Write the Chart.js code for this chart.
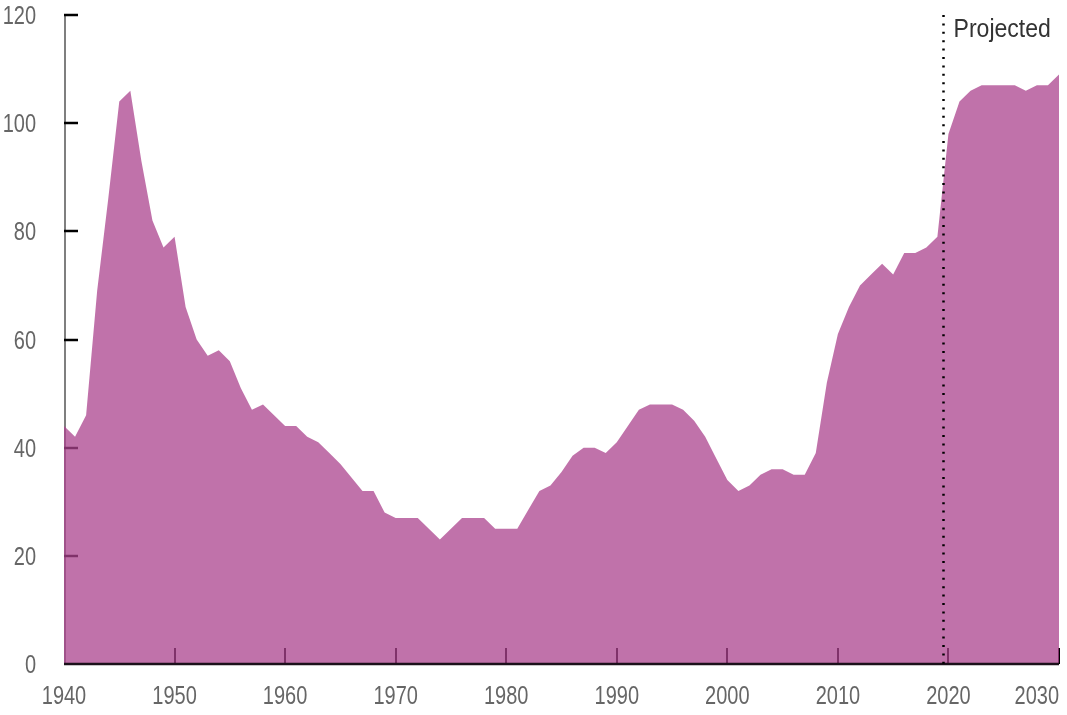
<!DOCTYPE html>
<html>
<head>
<meta charset="utf-8">
<script src="https://cdn.jsdelivr.net/npm/chart.js@4.4.1/dist/chart.umd.min.js"></script>
<style>
  html, body { margin: 0; padding: 0; background: #ffffff; }
  #wrap { width: 1067px; height: 715px; position: relative; }
</style>
</head>
<body>
<div id="wrap"><canvas id="c"></canvas></div>
<script>
// ---- data ----
const years = [
  1940, 1941, 1942, 1943, 1944, 1945, 1946, 1947, 1948, 1949,
  1950, 1951, 1952, 1953, 1954, 1955, 1956, 1957, 1958, 1959,
  1960, 1961, 1962, 1963, 1964, 1965, 1966, 1967, 1968, 1969,
  1970, 1971, 1972, 1973, 1974, 1975, 1976, 1977, 1978, 1979,
  1980, 1981, 1982, 1983, 1984, 1985, 1986, 1987, 1988, 1989,
  1990, 1991, 1992, 1993, 1994, 1995, 1996, 1997, 1998, 1999,
  2000, 2001, 2002, 2003, 2004, 2005, 2006, 2007, 2008, 2009,
  2010, 2011, 2012, 2013, 2014, 2015, 2016, 2017, 2018, 2019,
  2020, 2021, 2022, 2023, 2024, 2025, 2026, 2027, 2028, 2029,
  2030
];
const values = [
  44, 42, 46, 69, 86, 104, 106, 93, 82, 77,
  79, 66, 60, 57, 58, 56, 51, 47, 48, 46,
  44, 44, 42, 41, 39, 37, 34.5, 32, 32, 28,
  27, 27, 27, 25, 23, 25, 27, 27, 27, 25,
  25, 25, 28.5, 32, 33, 35.5, 38.5, 40, 40, 39,
  41, 44, 47, 48, 48, 48, 47, 45, 42, 38,
  34, 32, 33, 35, 36, 36, 35, 35, 39, 52,
  61, 66, 70, 72, 74, 72, 76, 76, 77, 79,
  98, 104, 106, 107, 107, 107, 107, 106, 107, 107,
  109
];
const xTickLabels = ['1940', '1950', '1960', '1970', '1980', '1990', '2000', '2010', '2020', '2030'];
const yTickLabels = ['0', '20', '40', '60', '80', '100', '120'];
const projectedStart = 2019.5;
const projectedLabel = 'Projected';

// ---- styling ----
const FONT = "'Liberation Sans', Arial, sans-serif";
const FILL = 'rgba(171, 67, 142, 0.75)';

const points = years.map((yr, i) => ({ x: yr, y: values[i] }));

function condensedText(ctx, text, x, y, align, baseline, size, squeeze, color) {
  ctx.save();
  ctx.font = size + 'px ' + FONT;
  ctx.fillStyle = color;
  ctx.textAlign = align;
  ctx.textBaseline = baseline;
  ctx.translate(x, y);
  ctx.scale(squeeze, 1);
  ctx.fillText(text, 0, 0);
  ctx.restore();
}

const decor = {
  id: 'decor',
  beforeDatasetsDraw(chart) {
    const { ctx, chartArea, scales } = chart;
    const xs = scales.x, ys = scales.y;
    ctx.save();
    // y axis line
    ctx.strokeStyle = '#7f7f7f';
    ctx.lineWidth = 2;
    ctx.beginPath();
    ctx.moveTo(chartArea.left + 1, ys.getPixelForValue(120) - 1);
    ctx.lineTo(chartArea.left + 1, chartArea.bottom);
    ctx.stroke();
    // inside y ticks
    ctx.strokeStyle = '#000000';
    ctx.lineWidth = 2.5;
    yTickLabels.forEach(t => {
      const v = parseFloat(t);
      if (v === 0) return;
      const py = Math.round(ys.getPixelForValue(v));
      ctx.beginPath();
      ctx.moveTo(chartArea.left, py);
      ctx.lineTo(chartArea.left + 14, py);
      ctx.stroke();
    });
    // inside x ticks
    ctx.lineWidth = 2;
    xTickLabels.forEach(t => {
      const v = parseFloat(t);
      if (v === 1940) return;
      const px = Math.round(xs.getPixelForValue(v));
      ctx.beginPath();
      ctx.moveTo(px, chartArea.bottom);
      ctx.lineTo(px, chartArea.bottom - 16);
      ctx.stroke();
    });
    ctx.restore();
  },
  afterDatasetsDraw(chart) {
    const { ctx, chartArea, scales } = chart;
    const xs = scales.x, ys = scales.y;
    ctx.save();
    // x axis line
    ctx.strokeStyle = '#1c111b';
    ctx.lineWidth = 2.5;
    ctx.beginPath();
    ctx.moveTo(chartArea.left, chartArea.bottom);
    ctx.lineTo(chartArea.right, chartArea.bottom);
    ctx.stroke();
    // dotted projection line
    const dx = Math.round(xs.getPixelForValue(projectedStart)) + 0.5;
    ctx.strokeStyle = '#000000';
    ctx.lineWidth = 2.5;
    ctx.setLineDash([2, 6.4]);
    ctx.beginPath();
    ctx.moveTo(dx, ys.getPixelForValue(120));
    ctx.lineTo(dx, chartArea.bottom);
    ctx.stroke();
    ctx.setLineDash([]);
    ctx.restore();
    // Projected label
    condensedText(ctx, projectedLabel, dx + 10, 37, 'left', 'alphabetic', 26.5, 0.87, '#333333');
    // x tick labels
    xTickLabels.forEach((t, i) => {
      const px = xs.getPixelForValue(parseFloat(t));
      const align = (i === xTickLabels.length - 1) ? 'right' : 'center';
      condensedText(ctx, t, px, chartArea.bottom + 40, align, 'alphabetic', 25, 0.8, '#666666');
    });
    // y tick labels
    yTickLabels.forEach(t => {
      const py = ys.getPixelForValue(parseFloat(t));
      condensedText(ctx, t, 36, py + 9, 'right', 'alphabetic', 25, 0.8, '#666666');
    });
  }
};

new Chart(document.getElementById('c'), {
  type: 'line',
  data: {
    datasets: [{
      data: points,
      fill: 'origin',
      backgroundColor: FILL,
      borderWidth: 0,
      borderColor: 'rgba(0,0,0,0)',
      pointRadius: 0,
      pointHoverRadius: 0,
      tension: 0
    }]
  },
  options: {
    responsive: true,
    maintainAspectRatio: false,
    animation: false,
    devicePixelRatio: 1,
    events: [],
    layout: { padding: { top: 15, right: 8, left: 0, bottom: 0 } },
    plugins: { legend: { display: false }, tooltip: { enabled: false }, title: { display: false } },
    scales: {
      x: {
        type: 'linear',
        min: 1940,
        max: 2030,
        ticks: { display: false, stepSize: 10 },
        grid: { display: false },
        border: { display: false },
        afterFit(scale) { scale.height = 51; scale.paddingLeft = 0; scale.paddingRight = 0; }
      },
      y: {
        type: 'linear',
        min: 0,
        max: 120,
        ticks: { display: false, stepSize: 20 },
        grid: { display: false, drawTicks: false },
        border: { display: false },
        afterFit(scale) { scale.width = 64; scale.paddingTop = 0; scale.paddingBottom = 0; }
      }
    }
  },
  plugins: [decor]
});
</script>
</body>
</html>
